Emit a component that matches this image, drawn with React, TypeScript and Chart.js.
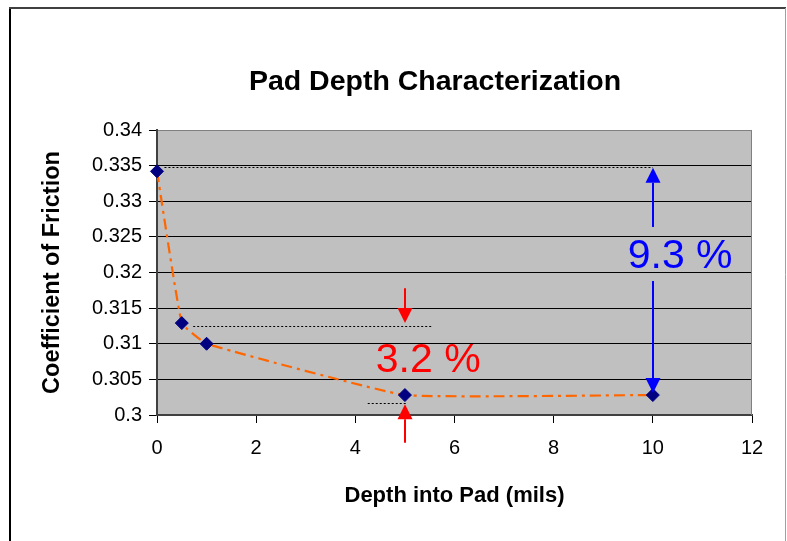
import React, { useEffect, useRef } from 'react';
import { Chart, registerables } from 'chart.js';

Chart.register(...registerables);

// ---- data ----
const DEPTH = [0, 0.5, 1, 5, 10];
const FRICTION = [0.3342, 0.3129, 0.31, 0.3028, 0.3028];
const X_TICKS = [0, 2, 4, 6, 8, 10, 12];
const Y_TICKS = [0.3, 0.305, 0.31, 0.315, 0.32, 0.325, 0.33, 0.335, 0.34];
const TITLE = 'Pad Depth Characterization';
const X_TITLE = 'Depth into Pad (mils)';
const Y_TITLE = 'Coefficient of Friction';

// dotted reference lines (data units)
const REF_Y = [0.3348, 0.3125, 0.3017];
const REF_X_START = [0.15, 0.73, 4.25];
const REF_X_END = [10, 5.55, 5.05];

// annotation arrows (data units); group 0 = red, group 1 = blue
const ARROW_X = [5, 5, 10, 10];
const ARROW_FROM = [0.3178, 0.2961, 0.3264, 0.3188];
const ARROW_TO = [0.3129, 0.3015, 0.3347, 0.3031];
const ARROW_GROUP = [0, 0, 1, 1];

// annotation labels
const LABEL_TEXT = ['3.2 %', '9.3 %'];
const LABEL_X = [5.47, 10.55];
const LABEL_Y = [0.3076, 0.3222];
const LABEL_GROUP = [0, 1];

// ---- styles ----
const FONT = '"Liberation Sans", Arial, Helvetica, sans-serif';
const GROUP_COLORS = ['#FF0000', '#0000FF'];

function drawArrow(ctx: CanvasRenderingContext2D, x: number, y0: number, y1: number, color: string) {
  const dir = y1 > y0 ? 1 : -1;
  const headLen = 15;
  const headHalf = 7.5;
  ctx.save();
  ctx.strokeStyle = color;
  ctx.fillStyle = color;
  ctx.lineWidth = 2;
  ctx.beginPath();
  ctx.moveTo(x, y0);
  ctx.lineTo(x, y1 - dir * headLen);
  ctx.stroke();
  ctx.beginPath();
  ctx.moveTo(x, y1);
  ctx.lineTo(x - headHalf, y1 - dir * headLen);
  ctx.lineTo(x + headHalf, y1 - dir * headLen);
  ctx.closePath();
  ctx.fill();
  ctx.restore();
}

const decorPlugin = {
  id: 'decor',
  beforeDraw(chart: any) {
    const { ctx, chartArea: a, width, height } = chart;
    ctx.save();
    ctx.fillStyle = '#FFFFFF';
    ctx.fillRect(0, 0, width, height);
    ctx.fillStyle = '#C0C0C0';
    ctx.fillRect(a.left, a.top, a.right - a.left, a.bottom - a.top);
    // outer frame
    ctx.lineWidth = 2;
    ctx.strokeStyle = '#000000';
    ctx.beginPath();
    ctx.moveTo(10, height);
    ctx.lineTo(10, 8);
    ctx.stroke();
    ctx.strokeStyle = '#404040';
    ctx.beginPath();
    ctx.moveTo(9, 8);
    ctx.lineTo(786, 8);
    ctx.stroke();
    ctx.lineWidth = 1;
    ctx.strokeStyle = '#A0A0A0';
    ctx.beginPath();
    ctx.moveTo(785.5, 8);
    ctx.lineTo(785.5, height);
    ctx.stroke();
    // title
    ctx.fillStyle = '#000000';
    ctx.font = `bold 28.5px ${FONT}`;
    ctx.textAlign = 'center';
    ctx.textBaseline = 'middle';
    ctx.fillText(TITLE, 435, 82);
    ctx.restore();
  },
  beforeDatasetsDraw(chart: any) {
    const { ctx, chartArea: a, scales } = chart;
    const xs = scales.x;
    const ys = scales.y;
    ctx.save();
    // right border of plot area
    ctx.strokeStyle = '#808080';
    ctx.lineWidth = 1;
    ctx.beginPath();
    ctx.moveTo(Math.round(a.right) - 0.5, a.top);
    ctx.lineTo(Math.round(a.right) - 0.5, a.bottom);
    ctx.stroke();
    // dotted reference lines
    ctx.strokeStyle = '#000000';
    ctx.lineWidth = 1;
    ctx.setLineDash([2, 2]);
    for (let i = 0; i < REF_Y.length; i++) {
      const y = Math.round(ys.getPixelForValue(REF_Y[i])) + 0.5;
      ctx.beginPath();
      ctx.moveTo(xs.getPixelForValue(REF_X_START[i]), y);
      ctx.lineTo(xs.getPixelForValue(REF_X_END[i]), y);
      ctx.stroke();
    }
    ctx.restore();
  },
  afterDatasetsDraw(chart: any) {
    const { ctx, scales } = chart;
    const xs = scales.x;
    const ys = scales.y;
    for (let i = 0; i < ARROW_X.length; i++) {
      drawArrow(
        ctx,
        Math.round(xs.getPixelForValue(ARROW_X[i])),
        ys.getPixelForValue(ARROW_FROM[i]),
        ys.getPixelForValue(ARROW_TO[i]),
        GROUP_COLORS[ARROW_GROUP[i]]
      );
    }
    ctx.save();
    ctx.font = `41px ${FONT}`;
    ctx.textAlign = 'center';
    ctx.textBaseline = 'middle';
    for (let i = 0; i < LABEL_TEXT.length; i++) {
      ctx.fillStyle = GROUP_COLORS[LABEL_GROUP[i]];
      ctx.fillText(LABEL_TEXT[i], xs.getPixelForValue(LABEL_X[i]), ys.getPixelForValue(LABEL_Y[i]));
    }
    ctx.restore();
  },
};

export default function App() {
  const canvasRef = useRef<HTMLCanvasElement | null>(null);

  useEffect(() => {
    const canvas = canvasRef.current;
    if (!canvas) return;
    const chart = new Chart(canvas, {
      type: 'line',
      data: {
        datasets: [
          {
            data: DEPTH.map((x, i) => ({ x, y: FRICTION[i] })),
            borderColor: '#FF6600',
            borderWidth: 2.2,
            borderDash: [11, 5, 3, 5],
            cubicInterpolationMode: 'default',
            tension: 0.1,
            pointStyle: 'rectRot',
            pointRadius: 6.5,
            pointBackgroundColor: '#000080',
            pointBorderColor: '#000080',
            pointBorderWidth: 1,
            clip: false as any,
            fill: false,
          },
        ],
      },
      options: {
        animation: false,
        responsive: false,
        devicePixelRatio: 1,
        events: [],
        layout: { padding: { top: 130, right: 35, bottom: 0, left: 0 } },
        plugins: {
          legend: { display: false },
          tooltip: { enabled: false },
          title: { display: false },
        },
        scales: {
          x: {
            type: 'linear',
            min: 0,
            max: 12,
            afterBuildTicks: (scale: any) => {
              scale.ticks = X_TICKS.map((v) => ({ value: v }));
            },
            afterFit: (scale: any) => {
              scale.height = 126;
            },
            grid: {
              display: true,
              drawOnChartArea: false,
              drawTicks: true,
              tickLength: 8,
              tickColor: '#000000',
            },
            border: { display: true, color: '#404040', width: 2 },
            ticks: {
              color: '#000000',
              font: { family: FONT, size: 20 },
              padding: 13,
              maxRotation: 0,
              autoSkip: false,
            },
            title: {
              display: true,
              text: X_TITLE,
              color: '#000000',
              font: { family: FONT, size: 22, weight: 'bold' },
              padding: { top: 0, bottom: 32 },
            },
          },
          y: {
            type: 'linear',
            min: 0.3,
            max: 0.34,
            afterBuildTicks: (scale: any) => {
              scale.ticks = Y_TICKS.map((v) => ({ value: v }));
            },
            afterFit: (scale: any) => {
              scale.width = 157;
            },
            grid: {
              display: true,
              drawOnChartArea: true,
              drawTicks: true,
              tickLength: 8,
              color: (c: any) => (c.tick && Math.abs(c.tick.value - 0.34) < 1e-9 ? '#808080' : '#000000'),
              tickColor: '#000000',
            },
            border: { display: true, color: '#404040', width: 2 },
            ticks: {
              color: '#000000',
              font: { family: FONT, size: 20 },
              padding: 7,
              autoSkip: false,
              callback: (v: any) => String(parseFloat(Number(v).toFixed(3))),
            },
            title: {
              display: true,
              text: Y_TITLE,
              color: '#000000',
              font: { family: FONT, size: 23.5, weight: 'bold' },
              padding: { top: 38, bottom: 0 },
            },
          },
        },
      },
      plugins: [decorPlugin],
    } as any);
    return () => chart.destroy();
  }, []);

  return (
    <div style={{ position: 'fixed', left: 0, top: 0, width: 787, height: 541 }}>
      <canvas ref={canvasRef} width={787} height={541} style={{ display: 'block', width: 787, height: 541 }} />
    </div>
  );
}
